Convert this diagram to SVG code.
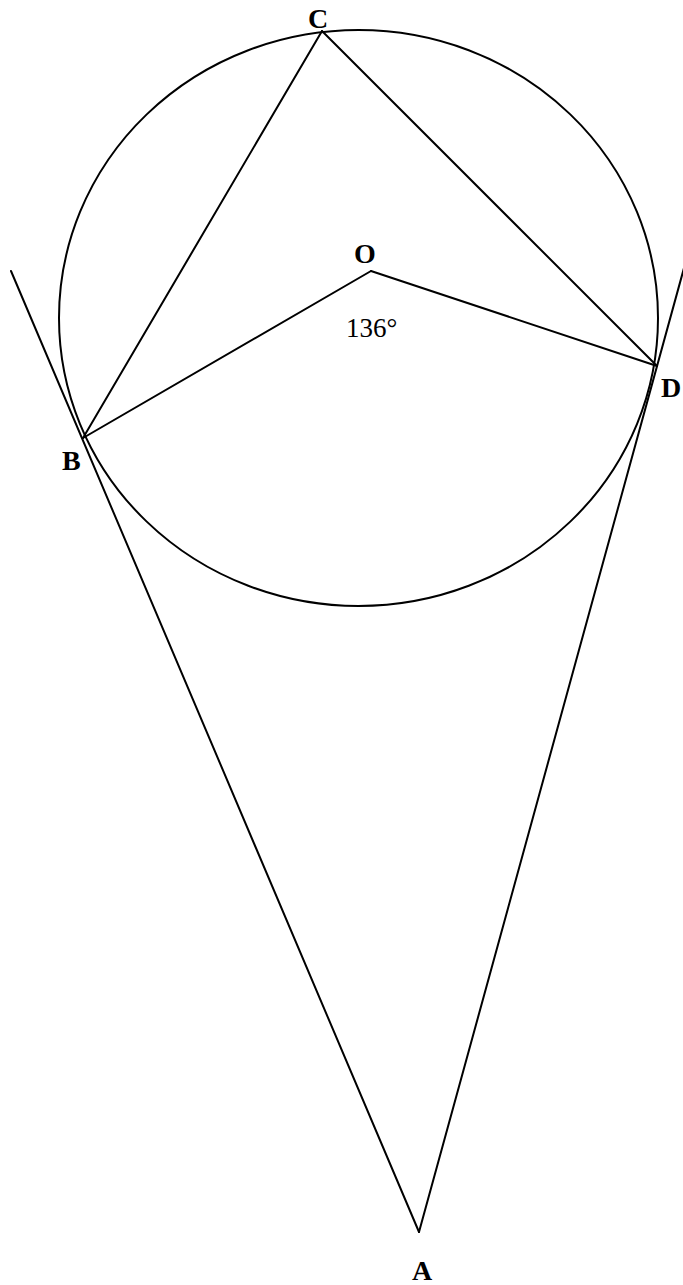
<svg xmlns="http://www.w3.org/2000/svg" width="683" height="1285" viewBox="0 0 683 1285">
<style>
.ln{stroke:#000;stroke-width:2;fill:none;stroke-linecap:round;stroke-linejoin:round}
.lb{font-family:"Liberation Serif","Times New Roman",serif;font-weight:bold;font-size:28px;fill:#000}
.ang{font-family:"Liberation Serif","Times New Roman",serif;font-size:27px;fill:#000}
</style>
<rect width="683" height="1285" fill="#fff"/>
<g id="circle"><ellipse class="ln" cx="358.5" cy="318" rx="299.5" ry="288"/></g>
<g id="connectors">
<line class="ln" x1="11" y1="271" x2="419" y2="1232"/>
<line class="ln" x1="419" y1="1232" x2="684" y2="268"/>
<line class="ln" x1="83" y1="438" x2="322" y2="31"/>
<line class="ln" x1="322" y1="31" x2="657" y2="366"/>
<line class="ln" x1="83" y1="438" x2="371" y2="271"/>
<line class="ln" x1="371" y1="271" x2="657" y2="366"/>
</g>
<g id="node-C"><text class="lb" x="308" y="28">C</text></g>
<g id="node-O"><text class="lb" x="354" y="263">O</text></g>
<g id="node-B"><text class="lb" x="62" y="470">B</text></g>
<g id="node-D"><text class="lb" x="661" y="397">D</text></g>
<g id="node-A"><text class="lb" x="412" y="1280">A</text></g>
<g id="angle"><text class="ang" x="346" y="337">136°</text></g>
</svg>
